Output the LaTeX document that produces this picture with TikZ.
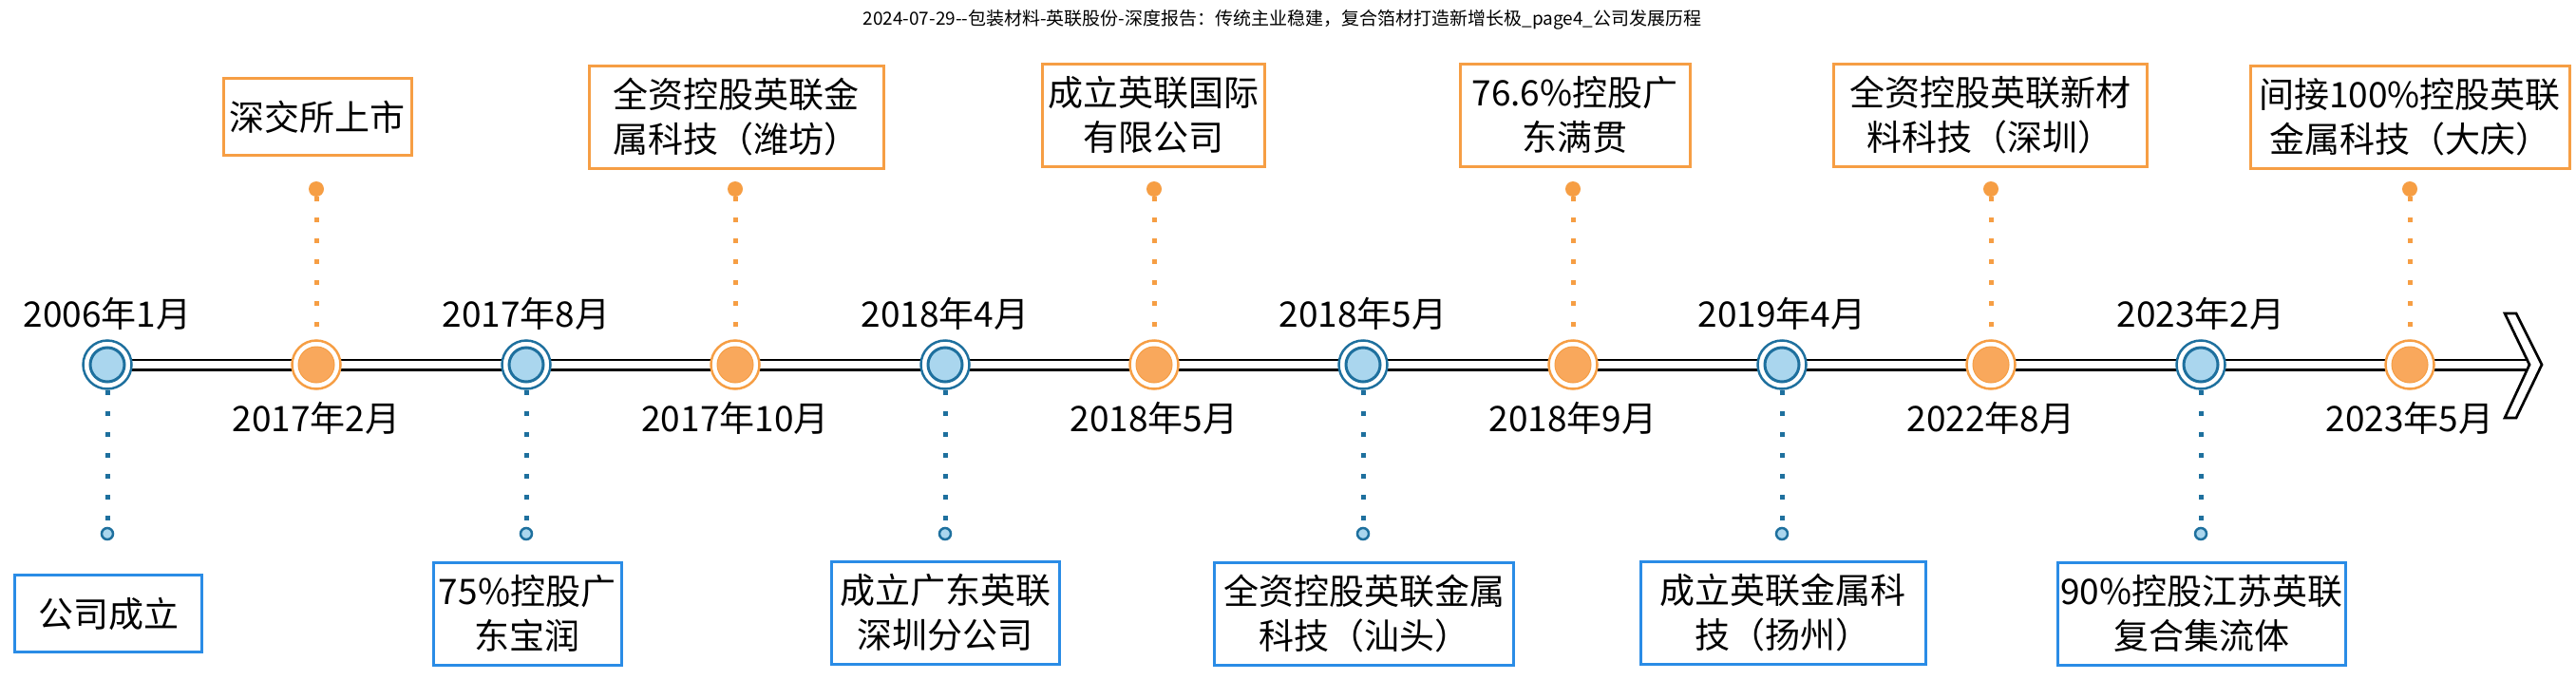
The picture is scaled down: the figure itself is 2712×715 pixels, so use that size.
\documentclass[tikz,border=0pt]{standalone}
\usepackage{fontspec}
\setmainfont{Noto Sans CJK SC}
\usepackage{tikz}
\usetikzlibrary{calc}
\tikzset{every node/.append style={align=center}}
\definecolor{ylorange}{RGB}{246,158,68}
\definecolor{ylpeach}{RGB}{249,168,92}
\definecolor{ylblue}{RGB}{42,140,230}
\definecolor{ylteal}{RGB}{30,112,158}
\definecolor{ylsky}{RGB}{170,214,238}

\begin{document}
\begin{tikzpicture}[x=1pt, y=-1pt,
  datetext/.style={font=\fontsize{37}{44}\selectfont},
  topbox/.style={draw=ylorange, line width=3pt, fill=white, inner sep=3pt,
    font=\fontsize{37}{47}\selectfont},
  botbox/.style={draw=ylblue, line width=3pt, fill=white, inner sep=3pt,
    font=\fontsize{37}{47}\selectfont},
  oneline/.style={minimum height=81pt},
  twoline/.style={minimum height=108pt},
  bluemark/.style={circle, draw=ylteal, line width=2.5pt, fill=white,
    minimum size=51pt, inner sep=0pt,
    path picture={\fill[ylsky, draw=ylteal, line width=3pt]
      (path picture bounding box.center) circle (18pt);}},
  orangemark/.style={circle, draw=ylorange, line width=2.5pt, fill=white,
    minimum size=51pt, inner sep=0pt,
    path picture={\fill[ylpeach, draw=ylorange, line width=1pt]
      (path picture bounding box.center) circle (19pt);}},
  orangedot/.style={circle, fill=ylorange, minimum size=16pt, inner sep=0pt},
  bluedot/.style={circle, fill=ylsky, draw=ylteal, line width=2.5pt,
    minimum size=12pt, inner sep=0pt},
  orangedots/.style={ylorange, line width=5pt, dash pattern=on 5pt off 17pt},
  bluedots/.style={ylteal, line width=5pt, dash pattern=on 5pt off 17pt}]

  \useasboundingbox (0,0) rectangle (2712,715);
  \fill[white] (0,0) rectangle (2712,715);

  % Page title
  \node (title) at (1350,21)
    {\fontsize{19}{20}\selectfont 2024-07-29-{}-包装材料-英联股份-深度报告：传统主业稳建，复合箔材打造新增长极\_page4\_公司发展历程};

  % Time axis
  \coordinate (axisend) at (2663,384);
  \coordinate (m0c) at (113,384);
  \draw[black, line width=2.7pt, double=white, double distance=7.6pt]
    (m0c) -- (axisend);
  \draw[black, line width=2.7pt, fill=white, line join=miter]
    (2637,330) -- (2649,330) -- (2676,384) -- (2649,440)
    -- (2637,440) -- (axisend) -- cycle;

  % Small end dots
  \node[bluedot]   (p0)  at (113,562)  {};
  \node[orangedot] (p1)  at (333,199)  {};
  \node[bluedot]   (p2)  at (554,562)  {};
  \node[orangedot] (p3)  at (774,199)  {};
  \node[bluedot]   (p4)  at (995,562)  {};
  \node[orangedot] (p5)  at (1215,199) {};
  \node[bluedot]   (p6)  at (1435,562) {};
  \node[orangedot] (p7)  at (1656,199) {};
  \node[bluedot]   (p8)  at (1876,562) {};
  \node[orangedot] (p9)  at (2096,199) {};
  \node[bluedot]   (p10) at (2317,562) {};
  \node[orangedot] (p11) at (2537,199) {};

  % Markers on the axis
  \node[bluemark]   (m0)  at (m0c)      {};
  \node[orangemark] (m1)  at (333,384)  {};
  \node[bluemark]   (m2)  at (554,384)  {};
  \node[orangemark] (m3)  at (774,384)  {};
  \node[bluemark]   (m4)  at (995,384)  {};
  \node[orangemark] (m5)  at (1215,384) {};
  \node[bluemark]   (m6)  at (1435,384) {};
  \node[orangemark] (m7)  at (1656,384) {};
  \node[bluemark]   (m8)  at (1876,384) {};
  \node[orangemark] (m9)  at (2096,384) {};
  \node[bluemark]   (m10) at (2317,384) {};
  \node[orangemark] (m11) at (2537,384) {};

  % Dotted leaders
  \draw[bluedots]   (m0.south)  -- (p0.north);
  \draw[orangedots] (p1.south)  -- (m1.north);
  \draw[bluedots]   (m2.south)  -- (p2.north);
  \draw[orangedots] (p3.south)  -- (m3.north);
  \draw[bluedots]   (m4.south)  -- (p4.north);
  \draw[orangedots] (p5.south)  -- (m5.north);
  \draw[bluedots]   (m6.south)  -- (p6.north);
  \draw[orangedots] (p7.south)  -- (m7.north);
  \draw[bluedots]   (m8.south)  -- (p8.north);
  \draw[orangedots] (p9.south)  -- (m9.north);
  \draw[bluedots]   (m10.south) -- (p10.north);
  \draw[orangedots] (p11.south) -- (m11.north);

  % Dates
  \node[datetext] (t0)  at (113,330)  {2006年1月};
  \node[datetext] (t1)  at (333,440)  {2017年2月};
  \node[datetext] (t2)  at (554,330)  {2017年8月};
  \node[datetext] (t3)  at (774,440)  {2017年10月};
  \node[datetext] (t4)  at (995,330)  {2018年4月};
  \node[datetext] (t5)  at (1215,440) {2018年5月};
  \node[datetext] (t6)  at (1435,330) {2018年5月};
  \node[datetext] (t7)  at (1656,440) {2018年9月};
  \node[datetext] (t8)  at (1876,330) {2019年4月};
  \node[datetext] (t9)  at (2096,440) {2022年8月};
  \node[datetext] (t10) at (2317,330) {2023年2月};
  \node[datetext] (t11) at (2537,440) {2023年5月};

  % Events above the axis
  \node[topbox, oneline, minimum width=198pt] (b1) at (334,123)
    {深交所上市};
  \node[topbox, twoline, minimum width=310pt] (b3) at (775,123)
    {全资控股英联金\\属科技（潍坊）};
  \node[topbox, twoline, minimum width=234pt] (b5) at (1214,121)
    {成立英联国际\\有限公司};
  \node[topbox, twoline, minimum width=242pt] (b7) at (1658,121)
    {76.6\%控股广\\东满贯};
  \node[topbox, twoline, minimum width=330pt] (b9) at (2095,121)
    {全资控股英联新材\\料科技（深圳）};
  \node[topbox, twoline, minimum width=336pt] (b11) at (2537,123)
    {间接100\%控股英联\\金属科技（大庆）};

  % Events below the axis
  \node[botbox, oneline, minimum width=197pt] (b0) at (114,646)
    {公司成立};
  \node[botbox, twoline, minimum width=198pt] (b2) at (555,646)
    {75\%控股广\\东宝润};
  \node[botbox, twoline, minimum width=240pt] (b4) at (995,645)
    {成立广东英联\\深圳分公司};
  \node[botbox, twoline, minimum width=315pt] (b6) at (1436,646)
    {全资控股英联金属\\科技（汕头）};
  \node[botbox, twoline, minimum width=300pt] (b8) at (1877,645)
    {成立英联金属科\\技（扬州）};
  \node[botbox, twoline, minimum width=294pt] (b10) at (2318,646)
    {90\%控股江苏英联\\复合集流体};

\end{tikzpicture}
\end{document}
